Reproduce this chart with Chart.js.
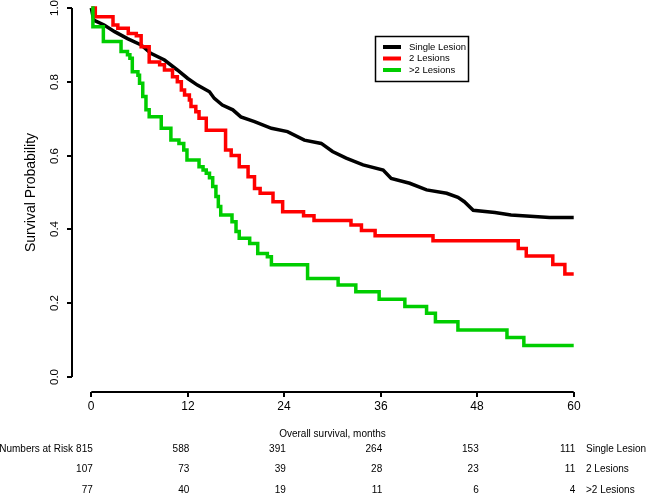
<!DOCTYPE html>
<html>
<head>
<meta charset="utf-8">
<script src="https://cdn.jsdelivr.net/npm/chart.js@4.4.1/dist/chart.umd.min.js"></script>
<style>
  html, body { margin: 0; padding: 0; background: #fff; }
  #wrap { width: 648px; height: 494px; position: relative; }
</style>
</head>
<body>
<div id="wrap"><canvas id="km"></canvas></div>
<script>
// series names + colours
const groups = ["Single Lesion", "2 Lesions", ">2 Lesions"];
const colors = ["#000000", "#ff0000", "#00cd00"];

// Kaplan-Meier curves (months, survival)
const singleTimes = [0, 0.3, 1.6, 2.9, 4.5, 6.2, 7.4, 9.1, 10.7, 12.0, 13.2, 14.7, 15.3, 16.3, 17.6, 18.6, 20.3, 22.4, 24.4, 26.5, 28.6, 30.0, 31.7, 33.8, 36.3, 37.3, 39.6, 41.7, 44.2, 45.6, 46.4, 47.5, 50.2, 52.2, 57.0, 60];
const singleSurv = [1.0, 0.967, 0.954, 0.936, 0.917, 0.900, 0.877, 0.859, 0.832, 0.809, 0.791, 0.773, 0.755, 0.737, 0.724, 0.705, 0.692, 0.674, 0.665, 0.642, 0.633, 0.611, 0.593, 0.575, 0.561, 0.538, 0.525, 0.507, 0.498, 0.487, 0.475, 0.452, 0.446, 0.439, 0.432, 0.432];

const twoTimes = [0, 0.5, 2.7, 3.3, 4.6, 5.6, 6.2, 7.2, 8.5, 9.1, 10.1, 10.7, 11.2, 11.6, 12.2, 12.4, 13.0, 13.4, 14.3, 16.7, 17.4, 18.4, 19.5, 20.3, 21.0, 22.6, 23.8, 26.4, 27.7, 32.3, 33.6, 35.3, 42.5, 53.1, 54.1, 57.4, 58.9, 60];
const twoSurv = [1.0, 0.976, 0.954, 0.945, 0.931, 0.925, 0.895, 0.854, 0.846, 0.832, 0.814, 0.800, 0.778, 0.764, 0.751, 0.733, 0.719, 0.701, 0.669, 0.615, 0.600, 0.570, 0.543, 0.511, 0.498, 0.475, 0.448, 0.437, 0.424, 0.412, 0.397, 0.383, 0.369, 0.348, 0.328, 0.305, 0.279, 0.279];

const moreTimes = [0, 0.2, 1.5, 3.7, 4.5, 4.8, 5.1, 5.8, 6.0, 6.4, 6.8, 7.2, 8.7, 9.9, 10.9, 11.5, 11.9, 13.4, 13.9, 14.3, 14.7, 15.1, 15.5, 15.8, 16.1, 17.5, 18.0, 18.4, 19.7, 20.7, 21.9, 22.4, 26.9, 30.7, 32.9, 35.8, 39.0, 41.7, 42.8, 45.6, 51.7, 53.8, 60];
const moreSurv = [1.0, 0.949, 0.909, 0.882, 0.873, 0.864, 0.827, 0.818, 0.796, 0.760, 0.724, 0.705, 0.674, 0.642, 0.633, 0.615, 0.588, 0.570, 0.561, 0.552, 0.540, 0.516, 0.489, 0.462, 0.439, 0.421, 0.394, 0.376, 0.362, 0.335, 0.326, 0.304, 0.267, 0.249, 0.231, 0.211, 0.191, 0.173, 0.150, 0.127, 0.107, 0.085, 0.085];

// axes
const xTicks = [0, 12, 24, 36, 48, 60];
const yTicks = [0, 0.2, 0.4, 0.6, 0.8, 1.0];
const yTickLabels = ["0.0", "0.2", "0.4", "0.6", "0.8", "1.0"];
const xTitle = "Overall survival, months";
const yTitle = "Survival Probability";

// numbers at risk at each x tick
const riskSingle = [815, 588, 391, 264, 153, 111];
const riskTwo = [107, 73, 39, 28, 23, 11];
const riskMore = [77, 40, 19, 11, 6, 4];
const riskTitle = "Numbers at Risk";

const FONT = '"Liberation Sans", Arial, sans-serif';

function toPoints(ts, vs) {
  return ts.map((t, i) => ({ x: t, y: vs[i] }));
}

// R-style detached axes, legend box and risk table
const decorPlugin = {
  id: "decor",
  afterDraw(chart) {
    const ctx = chart.ctx;
    const xs = chart.scales.x, ys = chart.scales.y;
    const area = chart.chartArea;
    ctx.save();
    ctx.strokeStyle = "#000";
    ctx.fillStyle = "#000";
    ctx.lineWidth = 2;

    // y axis
    const ax = Math.round(area.left);
    ctx.beginPath();
    ctx.moveTo(ax, ys.getPixelForValue(0));
    ctx.lineTo(ax, ys.getPixelForValue(1));
    ctx.stroke();
    ctx.font = "11.5px " + FONT;
    ctx.textAlign = "center";
    ctx.textBaseline = "middle";
    yTicks.forEach((v, i) => {
      const py = Math.round(ys.getPixelForValue(v));
      ctx.beginPath();
      ctx.moveTo(ax - 5, py);
      ctx.lineTo(ax, py);
      ctx.stroke();
      ctx.save();
      ctx.translate(55, py);
      ctx.rotate(-Math.PI / 2);
      ctx.fillText(yTickLabels[i], 0, 0);
      ctx.restore();
    });
    ctx.save();
    ctx.font = "14px " + FONT;
    ctx.translate(31, (ys.getPixelForValue(0) + ys.getPixelForValue(1)) / 2);
    ctx.rotate(-Math.PI / 2);
    ctx.fillText(yTitle, 0, 0);
    ctx.restore();

    // x axis
    const ay = Math.round(area.bottom);
    ctx.beginPath();
    ctx.moveTo(xs.getPixelForValue(xTicks[0]), ay);
    ctx.lineTo(xs.getPixelForValue(xTicks[xTicks.length - 1]), ay);
    ctx.stroke();
    ctx.font = "12px " + FONT;
    xTicks.forEach((t) => {
      const px = Math.round(xs.getPixelForValue(t));
      ctx.beginPath();
      ctx.moveTo(px, ay);
      ctx.lineTo(px, ay + 5);
      ctx.stroke();
      ctx.fillText(String(t), px, ay + 15);
    });
    ctx.font = "10px " + FONT;
    ctx.fillText(xTitle, (xs.getPixelForValue(0) + xs.getPixelForValue(60)) / 2, ay + 42);

    // numbers at risk
    const rows = [riskSingle, riskTwo, riskMore];
    rows.forEach((row, r) => {
      const ry = ay + 57 + r * 20.5;
      ctx.textAlign = "right";
      row.forEach((n, i) => {
        ctx.fillText(String(n), xs.getPixelForValue(xTicks[i]) + 1.5, ry);
      });
      if (r === 0) {
        const w = ctx.measureText(String(row[0])).width;
        ctx.fillText(riskTitle, xs.getPixelForValue(xTicks[0]) + 1.5 - w - 3, ry);
      }
      ctx.textAlign = "left";
      ctx.fillText(groups[r], 586, ry);
    });

    // legend box
    ctx.lineWidth = 1.5;
    ctx.strokeRect(375.5, 36.5, 93, 45);
    ctx.font = "9.5px " + FONT;
    groups.forEach((g, i) => {
      const ly = 47 + i * 11.5;
      ctx.strokeStyle = colors[i];
      ctx.lineWidth = 4;
      ctx.beginPath();
      ctx.moveTo(383, ly);
      ctx.lineTo(401, ly);
      ctx.stroke();
      ctx.fillStyle = "#000";
      ctx.textAlign = "left";
      ctx.fillText(g, 409, ly);
    });
    ctx.restore();
  },
};

new Chart(document.getElementById("km"), {
  type: "line",
  data: {
    datasets: [
      {
        label: groups[0],
        data: toPoints(singleTimes, singleSurv),
        borderColor: colors[0],
        borderWidth: 3.5,
        pointRadius: 0,
        order: 3,
      },
      {
        label: groups[1],
        data: toPoints(twoTimes, twoSurv),
        borderColor: colors[1],
        borderWidth: 3.5,
        pointRadius: 0,
        stepped: "before",
        order: 2,
      },
      {
        label: groups[2],
        data: toPoints(moreTimes, moreSurv),
        borderColor: colors[2],
        borderWidth: 3.5,
        pointRadius: 0,
        stepped: "before",
        order: 1,
      },
    ],
  },
  options: {
    responsive: true,
    maintainAspectRatio: false,
    animation: false,
    layout: { padding: { left: 72, right: 55, top: 0, bottom: 102 } },
    scales: {
      x: { type: "linear", min: -2.4, max: 62.4, display: false },
      y: { type: "linear", min: -0.0407, max: 1.0217, display: false },
    },
    plugins: { legend: { display: false }, tooltip: { enabled: false } },
  },
  plugins: [decorPlugin],
});
</script>
</body>
</html>
